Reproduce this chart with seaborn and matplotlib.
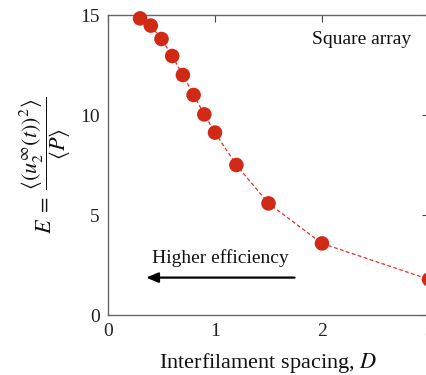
import matplotlib
matplotlib.use("Agg")
import matplotlib.pyplot as plt
import seaborn as sns
import pandas as pd

spacing = [0.3, 0.4, 0.5, 0.6, 0.7, 0.8, 0.9, 1.0, 1.2, 1.5, 2.0, 3.0]
efficiency = [14.83, 14.47, 13.8, 12.95, 12.0, 11.0, 10.03, 9.12, 7.5, 5.58, 3.58, 1.78]
xticks = [0, 1, 2, 3]
yticks = [0, 5, 10, 15]

sns.set_theme(style="white")
plt.rcParams['font.family'] = ['Liberation Serif', 'DejaVu Serif']
plt.rcParams['mathtext.fontset'] = 'stix'

df = pd.DataFrame({"D": spacing, "E": efficiency})

fig = plt.figure(figsize=(4.27, 3.75), dpi=100)
ax = fig.add_axes([108/427, 1-315/375, (429-108)/427, 300/375])

sns.lineplot(data=df, x="D", y="E", ax=ax, color="#ee2b2b", linestyle=(0, (3, 2)),
             linewidth=0.9, zorder=2)
sns.scatterplot(data=df, x="D", y="E", ax=ax, color="#d02a17", s=110,
                edgecolor="none", zorder=3, clip_on=False)

ax.set_xlim(0, 3)
ax.set_ylim(0, 15)
ax.set_xticks(xticks)
ax.set_yticks(yticks)
ax.tick_params(direction="in", length=5, width=0.8, colors="#444444",
               labelcolor="#222222", labelsize=14, top=True, right=True, pad=6)
for s in ax.spines.values():
    s.set_color("#666666")
    s.set_linewidth(1.0)

ax.set_xlabel(r"Interfilament spacing, $D$", fontsize=16, color="#111111", labelpad=8)
ax.set_ylabel(r"$E\;=\;\dfrac{\langle (u_2^{\infty}(t))^2\rangle}{\langle P\rangle}$",
              fontsize=16, color="#111111", labelpad=4)

ax.text(2.37, 13.8, "Square array", fontsize=14, ha="center", va="center", color="#111111")
ax.text(1.05, 2.85, "Higher efficiency", fontsize=14, ha="center", va="center", color="#111111")
ax.annotate("", xy=(0.33, 1.87), xytext=(1.77, 1.87),
            arrowprops=dict(arrowstyle="-|>,head_length=0.6,head_width=0.25",
                            color="black", lw=1.6))

fig.savefig("out.png", dpi=100)
